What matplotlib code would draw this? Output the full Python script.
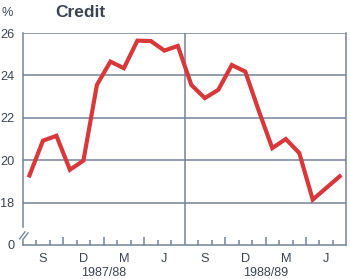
import matplotlib
matplotlib.use("Agg")
import matplotlib.pyplot as plt

plt.rcParams['font.family'] = ['Liberation Sans', 'DejaVu Sans']

# Data (monthly, two financial years)
credit = [19.28, 20.92, 21.15, 19.55, 19.98, 23.55, 24.65, 24.34, 25.64, 25.62, 25.17, 25.39,
          23.55, 22.93, 23.32, 24.49, 24.18, 22.33, 20.57, 21.00, 20.34, 18.14, 18.69, 19.24]
month_labels = ['S', 'D', 'M', 'J', 'S', 'D', 'M', 'J']
month_label_pos = [1, 4, 7, 10, 13, 16, 19, 22]
year_labels = ['1987/88', '1988/89']
ytick_vals = [16, 18, 20, 22, 24, 26]
ytick_labels = ['0', '18', '20', '22', '24', '26']

TXT = '#3a4452'
GRID = '#74849a'
RED = '#d8383a'
FS = 9.2

fig = plt.figure(figsize=(3.5, 2.79), dpi=100)
ax = fig.add_axes([0.0649, 0.1219, 0.925, 0.7598])

x = [i + 0.5 for i in range(len(credit))]
ax.plot(x, credit, color=RED, lw=3.0, solid_joinstyle='miter', zorder=3)

ax.set_xlim(0, 24)
ax.set_ylim(16, 26)

# horizontal grid lines
for v in [18, 20, 22, 24, 26]:
    ax.axhline(v, color=GRID, lw=1.1, zorder=1)
# divider between years
ax.axvline(12, color=GRID, lw=1.1, zorder=1)

ax.spines['top'].set_visible(False)
for s in ax.spines.values():
    s.set_color(GRID)
    s.set_linewidth(1.1)
ax.spines['left'].set_bounds(16.87, 26)
# short segment of left axis below break
ax.plot([0, 0], [16, 16.2], color=GRID, lw=1.1, clip_on=False, zorder=2)
# break marks
ax.plot([-0.23, 0.17], [16.29, 16.62], color=GRID, lw=1.0, clip_on=False)
ax.plot([-0.01, 0.39], [16.24, 16.57], color=GRID, lw=1.0, clip_on=False)

ax.set_yticks(ytick_vals)
ax.set_yticklabels(ytick_labels)
ax.tick_params(axis='y', length=0, pad=6, labelsize=FS, labelcolor=TXT)

# bottom ticks (inside)
minor = [i for i in range(1, 24) if i % 3 != 0]
major = [3, 6, 9, 15, 18, 21]
ax.set_xticks(minor, minor=True)
ax.set_xticks(major)
ax.set_xticklabels([])
ax.tick_params(axis='x', which='minor', direction='in', length=3.6, color=GRID, width=1.1)
ax.tick_params(axis='x', which='major', direction='in', length=5.5, color=GRID, width=1.1)

for p, lab in zip(month_label_pos, month_labels):
    ax.text(p + 0.5, 16 - 0.4, lab, ha='center', va='top', fontsize=FS, color=TXT,
            clip_on=False)
for c, lab in zip([6, 18], year_labels):
    ax.text(c, 16 - 1.05, lab, ha='center', va='top', fontsize=9.0, color=TXT, clip_on=False)

fig.text(0.003, 0.955, '%', ha='left', va='center', fontsize=FS, color=TXT)
fig.text(0.157, 0.955, 'Credit', ha='left', va='center', fontsize=12.5, fontweight='bold', color=TXT)

fig.savefig('out.png', dpi=100)
